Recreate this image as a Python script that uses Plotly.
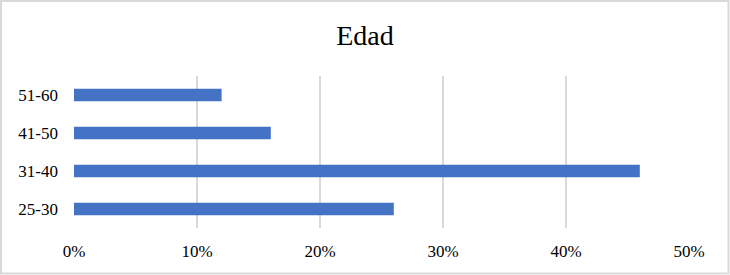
import plotly.graph_objects as go

categories = ["25-30", "31-40", "41-50", "51-60"]
values = [0.26, 0.46, 0.16, 0.12]
tick_vals = [0, 0.1, 0.2, 0.3, 0.4, 0.5]
tick_text = ["0%", "10%", "20%", "30%", "40%", "50%"]

W, H = 730, 275
ML, MR, MT, MB = 74, 41, 76, 47
PW, PH = W - ML - MR, H - MT - MB

FONT = "Liberation Serif, Times New Roman, serif"

fig = go.Figure(go.Bar(
    y=categories, x=values, orientation="h",
    marker=dict(color="#4472C4", line=dict(width=0)),
))

def px_x(p):
    return (p - ML) / PW

def px_y(p):
    return 1 - (p - MT) / PH

fig.update_layout(
    width=W, height=H,
    margin=dict(l=ML, r=MR, t=MT, b=MB),
    paper_bgcolor="white", plot_bgcolor="white",
    bargap=0.666,
    showlegend=False,
    title=dict(text="Edad", x=0.5, xanchor="center", y=1 - 35 / H, yanchor="middle",
               font=dict(family=FONT, size=28, color="#000000")),
    font=dict(family=FONT, size=17, color="#000000"),
    xaxis=dict(range=[0, 0.5], tickvals=tick_vals, ticktext=tick_text,
               showgrid=True, gridcolor="#d9d9d9", gridwidth=1.5,
               zeroline=False, showline=False, ticks="", ticklabelstandoff=11,
               fixedrange=True),
    yaxis=dict(showgrid=False, zeroline=False, showline=False, ticks="",
               ticklabelstandoff=15, fixedrange=True),
    shapes=[dict(type="rect", xref="paper", yref="paper",
                 x0=px_x(1), x1=px_x(728.5), y0=px_y(1), y1=px_y(273.5),
                 line=dict(color="#d9d9d9", width=2), fillcolor="rgba(0,0,0,0)",
                 layer="below")],
)

fig.write_html("out.html")
